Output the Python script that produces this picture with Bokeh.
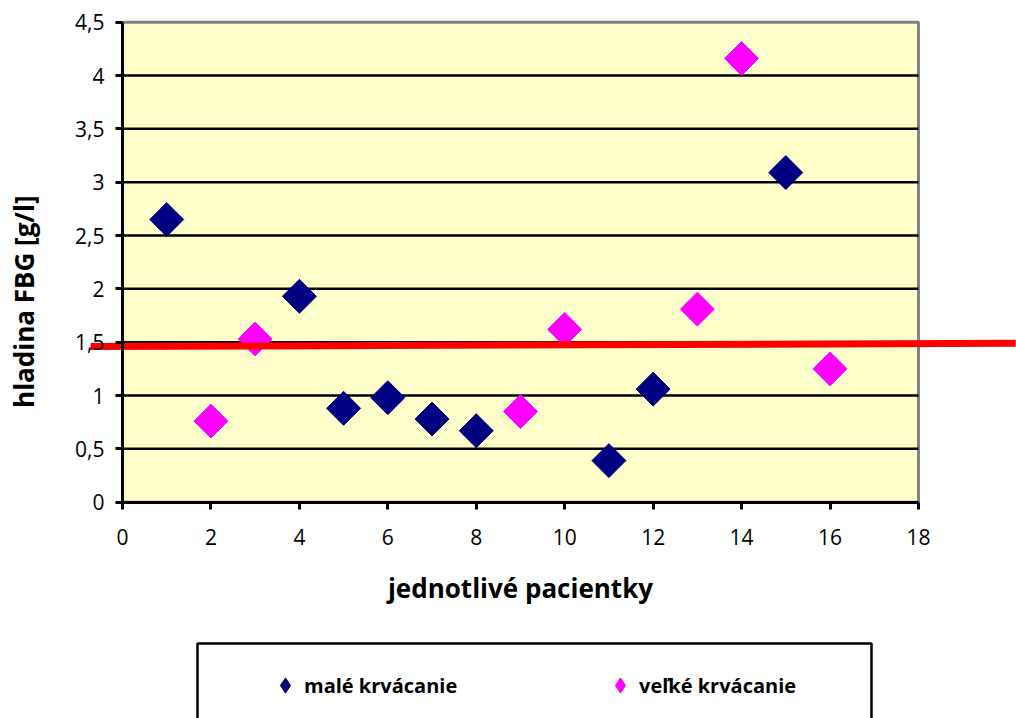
import math
from bokeh.plotting import figure
from bokeh.models import (FixedTicker, CustomJSTickFormatter, Legend, LegendItem,
                          BoxAnnotation, Label, Range1d)
from bokeh.embed import file_html
from bokeh.resources import INLINE

# ---- data ----
patient_small = [1, 4, 5, 6, 7, 8, 11, 12, 15]
fbg_small = [2.65, 1.93, 0.88, 0.98, 0.78, 0.67, 0.39, 1.06, 3.09]
patient_large = [2, 3, 9, 10, 13, 14, 16]
fbg_large = [0.76, 1.53, 0.85, 1.62, 1.81, 4.16, 1.25]
series_names = ["malé krvácanie", "veľké krvácanie"]
series_colors = ["#000080", "#FF00FF"]
x_ticks = [0, 2, 4, 6, 8, 10, 12, 14, 16, 18]
y_ticks = [0, 0.5, 1, 1.5, 2, 2.5, 3, 3.5, 4, 4.5]
threshold_x = [-0.72, 20.2]
threshold_y = [1.46, 1.49]
x_title = "jednotlivé pacientky"
y_title = "hladina FBG [g/l]"

FONT = "Open Sans"
W, H = 1016, 718
X0_PX, Y0_PX = 122, 501.7          # pixel position of the data origin
PX_X, PX_Y = 44.22, 106.67         # pixels per data unit

x_range = Range1d(-X0_PX / PX_X, (W - X0_PX) / PX_X)
y_range = Range1d(-(H - Y0_PX) / PX_Y, Y0_PX / PX_Y)

p = figure(width=W, height=H, x_range=x_range, y_range=y_range,
           output_backend="svg", toolbar_location=None, min_border=0,
           background_fill_color="white", border_fill_color="white",
           outline_line_color=None)
p.grid.visible = False

# plot area (yellow) with grey top/right border
p.quad(left=x_ticks[0], right=x_ticks[-1], bottom=y_ticks[0], top=y_ticks[-1],
       fill_color="#FFFFCC", line_color="#808080", line_width=3)
# horizontal gridlines
grid_y = y_ticks[1:-1]
p.segment(x0=[x_ticks[0]] * len(grid_y), x1=[x_ticks[-1]] * len(grid_y),
          y0=grid_y, y1=grid_y, line_color="black", line_width=2.5)

p.xaxis.fixed_location = 0
p.yaxis.fixed_location = 0
p.xaxis.bounds = (x_ticks[0], x_ticks[-1])
p.yaxis.bounds = (y_ticks[0], y_ticks[-1])
p.xaxis.ticker = FixedTicker(ticks=x_ticks)
p.yaxis.ticker = FixedTicker(ticks=y_ticks)
p.yaxis.formatter = CustomJSTickFormatter(code="return tick.toString().replace('.', ',');")

for ax in (p.xaxis[0], p.yaxis[0]):
    ax.axis_line_color = "black"
    ax.axis_line_width = 3
    ax.major_tick_line_color = "black"
    ax.major_tick_line_width = 3
    ax.major_tick_in = 0
    ax.major_tick_out = 7
    ax.minor_tick_line_color = None
    ax.major_label_text_font = FONT
    ax.major_label_text_font_size = "21px"
    ax.major_label_text_color = "black"

p.xaxis.major_label_standoff = 20
p.yaxis.major_label_standoff = 11
p.xaxis.axis_label = x_title
p.xaxis.axis_label_text_font = FONT
p.xaxis.axis_label_text_font_size = "26px"
p.xaxis.axis_label_text_font_style = "bold"
p.xaxis.axis_label_text_color = "black"
p.xaxis.axis_label_standoff = 21

r_small = p.scatter(patient_small, fbg_small, marker="square", size=24, angle=math.pi / 4,
                    fill_color=series_colors[0], line_color=series_colors[0])
r_large = p.scatter(patient_large, fbg_large, marker="square", size=24, angle=math.pi / 4,
                    fill_color=series_colors[1], line_color=series_colors[1])

# red reference line (extends beyond the plot area as in the reference)
p.line(threshold_x, threshold_y, line_color="#FF0000", line_width=7)

# y-axis title
p.add_layout(Label(x=-2.22, y=1.88, text=y_title, angle=math.pi / 2,
                   text_align="center", text_baseline="middle",
                   text_font=FONT, text_font_size="26px", text_font_style="bold",
                   text_color="black"))

# legend frame (bottom edge falls below the picture, as in the reference)
p.add_layout(BoxAnnotation(left=(197 - X0_PX) / PX_X, right=(871 - X0_PX) / PX_X,
                           top=(Y0_PX - 643) / PX_Y, bottom=(Y0_PX - 760) / PX_Y,
                           fill_alpha=0, line_color="black", line_alpha=1, line_width=2.5))

# legend key glyphs (diamond shaped keys, as in the reference); the NaN point is never drawn
nan = float("nan")
key_small = p.scatter([nan], [nan], marker="diamond",
                      fill_color=series_colors[0], line_color=series_colors[0])
key_large = p.scatter([nan], [nan], marker="diamond",
                      fill_color=series_colors[1], line_color=series_colors[1])

legend = Legend(items=[LegendItem(label=series_names[0], renderers=[key_small]),
                       LegendItem(label=series_names[1], renderers=[key_large])],
                location=(266, 12), orientation="horizontal",
                padding=0, margin=0, spacing=97, label_width=200, label_standoff=0,
                glyph_width=38, glyph_height=42, label_height=42,
                border_line_color=None, background_fill_alpha=0,
                label_text_font=FONT, label_text_font_size="20px",
                label_text_font_style="bold", label_text_color="black")
p.add_layout(legend)

open("out.html", "w").write(file_html(p, INLINE))
